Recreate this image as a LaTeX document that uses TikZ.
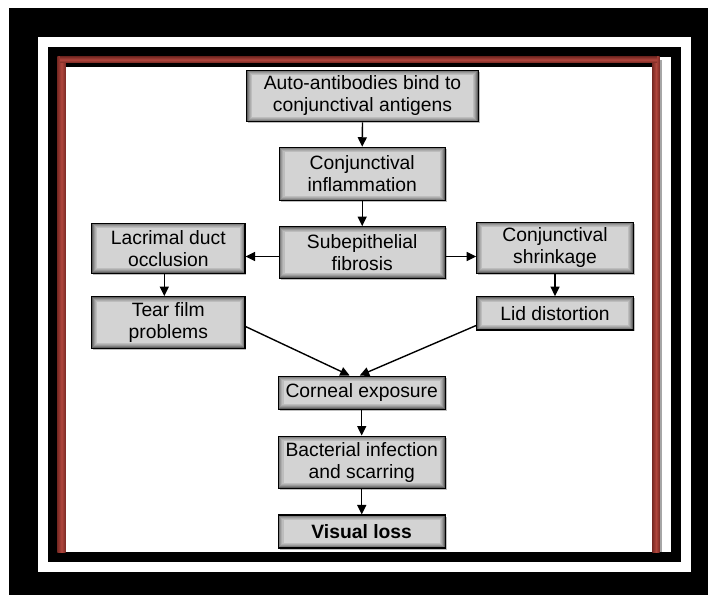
\documentclass[tikz,border=0pt]{standalone}
\usepackage{fontspec}
\setmainfont{Liberation Sans}
\usetikzlibrary{arrows.meta,shadows}
\definecolor{boxgray}{HTML}{D3D3D3}
\definecolor{framered}{HTML}{B0463D}
\definecolor{framereddark}{HTML}{7A2A24}
\begin{document}
\begin{tikzpicture}[x=1pt,y=-1pt,
  flowbox/.style={draw=black, line width=1.1pt, fill=boxgray, inner sep=0pt, align=center,
    font=\fontsize{19.3}{22}\selectfont,
    drop shadow={shadow xshift=1.5pt, shadow yshift=-1.5pt, fill=black, opacity=0.25},
    path picture={\foreach \d/\c in {0.6/62,1.6/50,2.6/40,3.6/32,4.6/26}{
      \draw[black!\c, line width=1.1pt]
        ([xshift=\d pt,yshift=\d pt]path picture bounding box.south west) rectangle
        ([xshift=-\d pt,yshift=-\d pt]path picture bounding box.north east);}}},
  arr/.style={line width=1.4pt, -{Triangle[length=9.5pt,width=9pt]}}]
\useasboundingbox (0,0) rectangle (708,595);
% frames
\fill[white] (0,0) rectangle (708,595);
\fill[black] (9.3,8.3) rectangle (708,595);
\fill[white] (38.3,37.3) rectangle (690.7,571.7);
\fill[black] (47.7,47.3) rectangle (681.3,561.7);
\fill[white] (57.3,56.7) rectangle (671.3,552.3);
% red frame
\fill[black!35] (659.7,60) rectangle (662.3,552.3);
\shade[left color=framereddark, right color=framereddark, middle color=framered] (57.3,56.7) rectangle (65.7,552.3);
\shade[left color=framereddark, right color=framereddark, middle color=framered] (652.3,56.7) rectangle (659.7,552.3);
\shade[top color=framereddark, bottom color=framereddark, middle color=framered] (60,56.7) rectangle (657,62.7);
\fill[black] (65.7,62.7) rectangle (652.3,66.7);

% nodes
\node[flowbox, minimum width=231.6pt, minimum height=51.7pt] (top) at (362.5,95.9) {Auto-antibodies bind to\\conjunctival antigens};
\node[flowbox, minimum width=165.7pt, minimum height=53.4pt] (infl) at (362.2,174) {Conjunctival\\inflammation};
\node[flowbox, minimum width=165.7pt, minimum height=51.6pt] (sub) at (362.2,252.5) {Subepithelial\\fibrosis};
\node[flowbox, minimum width=153.3pt, minimum height=50pt] (lac) at (168.3,248.3) {Lacrimal duct\\occlusion};
\node[flowbox, minimum width=153.3pt, minimum height=51.6pt] (tear) at (168.3,322.5) {Tear film\\problems};
\node[flowbox, minimum width=156.6pt, minimum height=51pt] (shr) at (555,247.8) {Conjunctival\\shrinkage};
\node[flowbox, minimum width=156.6pt, minimum height=33.3pt] (lid) at (555,313.3) {Lid distortion};
\node[flowbox, minimum width=166.7pt, minimum height=33.3pt] (corn) at (361.7,392.7) {Corneal exposure};
\node[flowbox, minimum width=166.7pt, minimum height=52.3pt] (bact) at (361.7,462.2) {Bacterial infection\\and scarring};
\node[flowbox, minimum width=166.7pt, minimum height=33pt, font=\fontsize{19.3}{22}\selectfont\bfseries] (vis) at (361.7,531.5) {Visual loss};

% connectors
\draw[arr] (top.south) -- (infl.north);
\draw[arr] (infl.south) -- (sub.north);
\coordinate (hl) at ([yshift=-4pt]sub.west);
\coordinate (hr) at ([yshift=-4pt]sub.east);
\draw[arr] (hl) -- (hl -| lac.east);
\draw[arr] (hr) -- (hr -| shr.west);
\draw[arr] ([xshift=-4pt]lac.south) -- ([xshift=-4pt]tear.north);
\draw[arr] (shr.south) -- (lid.north);
\draw[arr] ([yshift=-4pt]tear.east) -- ([xshift=-12pt]corn.north);
\draw[arr] ([yshift=5pt]lid.south west) -- ([xshift=-2pt]corn.north);
\draw[arr] (corn.south) -- (bact.north);
\draw[arr] (bact.south) -- (vis.north);
\end{tikzpicture}
\end{document}
